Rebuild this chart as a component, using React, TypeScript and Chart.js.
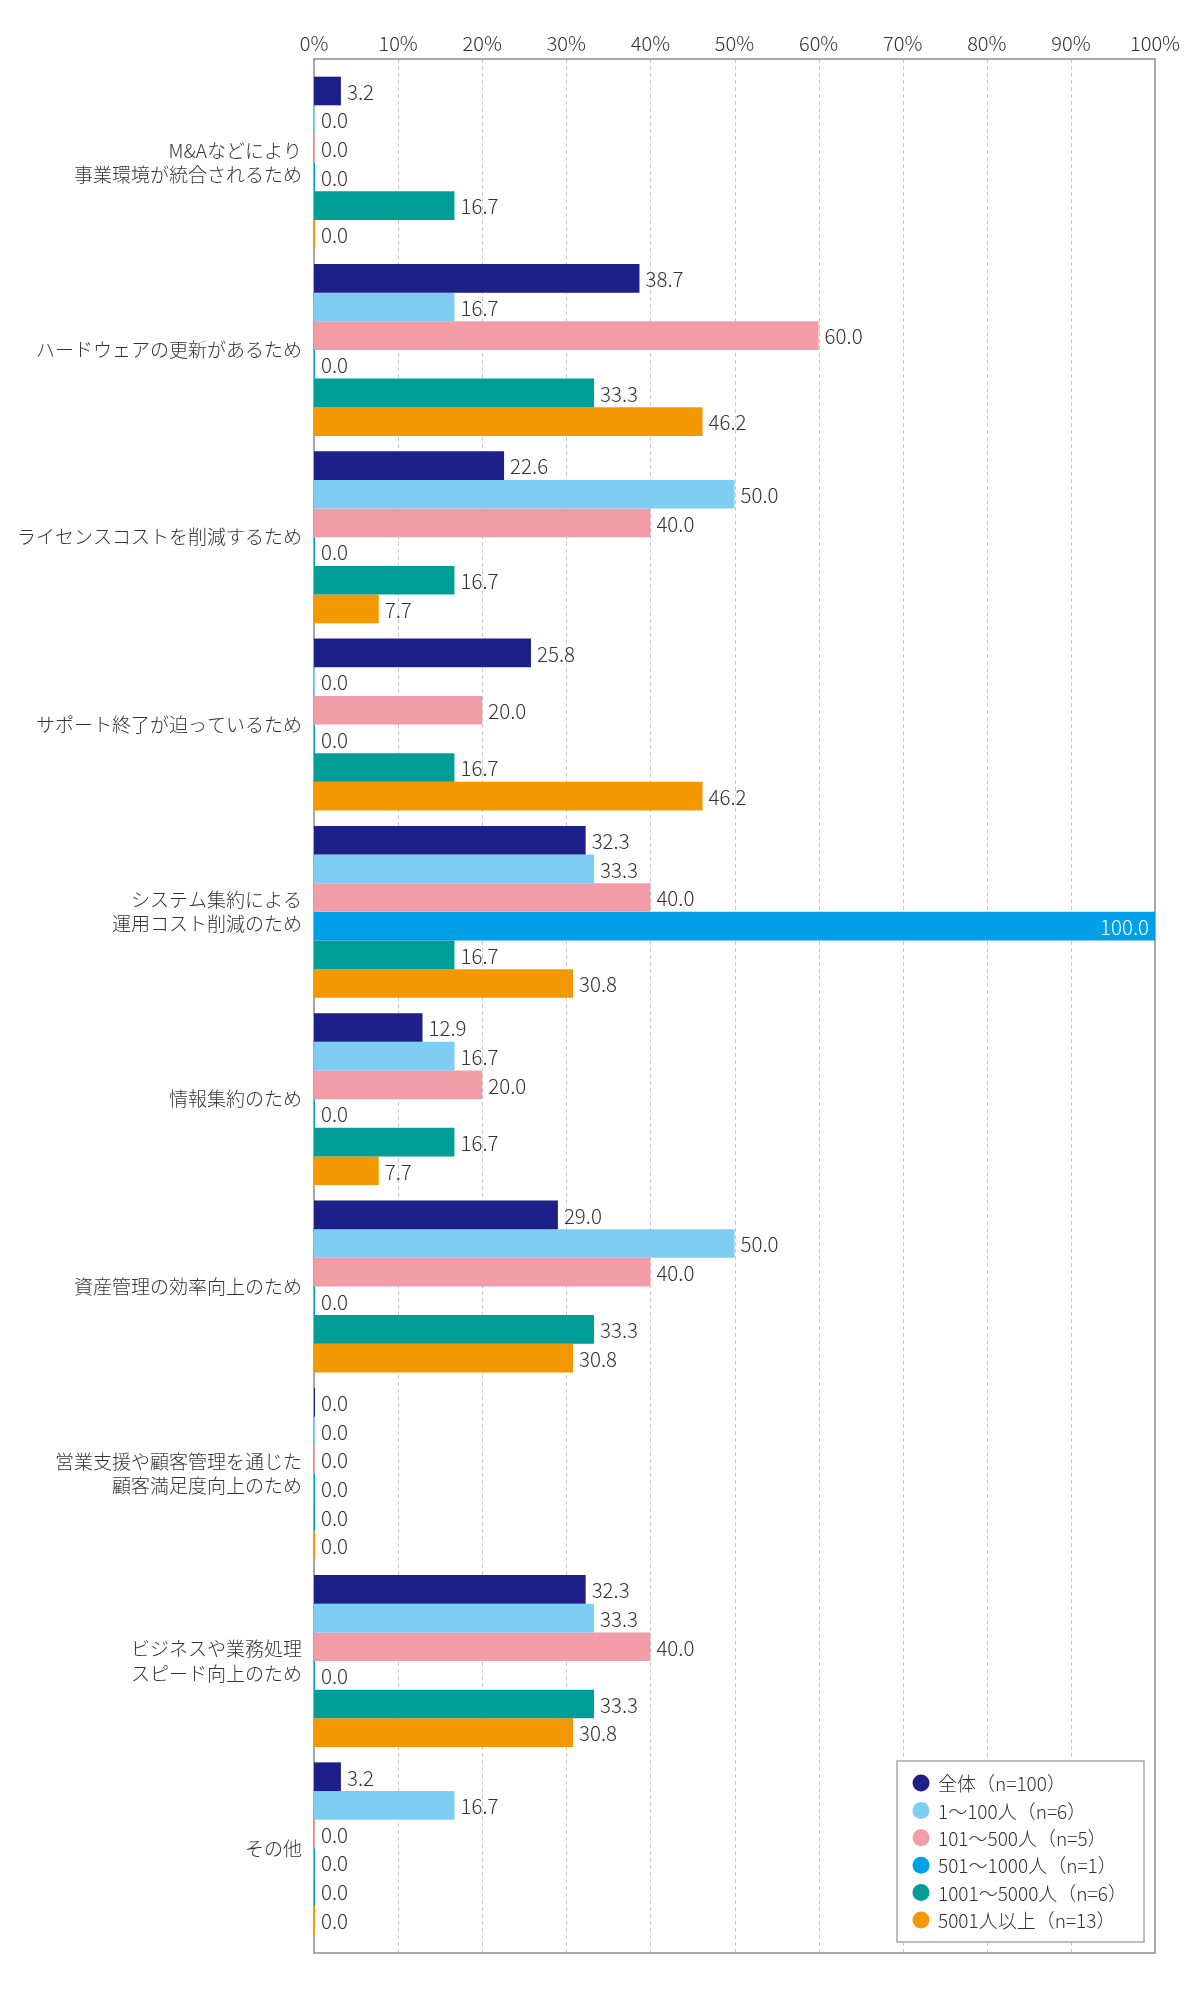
import React, { useEffect, useRef } from "react";
import { Chart, registerables } from "chart.js";

Chart.register(...registerables);

// categories (multi-line labels as arrays)
const categories: (string | string[])[] = [
  ["M&Aなどにより", "事業環境が統合されるため"],
  "ハードウェアの更新があるため",
  "ライセンスコストを削減するため",
  "サポート終了が迫っているため",
  ["システム集約による", "運用コスト削減のため"],
  "情報集約のため",
  "資産管理の効率向上のため",
  ["営業支援や顧客管理を通じた", "顧客満足度向上のため"],
  ["ビジネスや業務処理", "スピード向上のため"],
  "その他",
];

const seriesNames = [
  "全体（n=100）",
  "1〜100人（n=6）",
  "101〜500人（n=5）",
  "501〜1000人（n=1）",
  "1001〜5000人（n=6）",
  "5001人以上（n=13）",
];

const totalAll = [3.2, 38.7, 22.6, 25.8, 32.3, 12.9, 29.0, 0.0, 32.3, 3.2];
const size1to100 = [0.0, 16.7, 50.0, 0.0, 33.3, 16.7, 50.0, 0.0, 33.3, 16.7];
const size101to500 = [0.0, 60.0, 40.0, 20.0, 40.0, 20.0, 40.0, 0.0, 40.0, 0.0];
const size501to1000 = [0.0, 0.0, 0.0, 0.0, 100.0, 0.0, 0.0, 0.0, 0.0, 0.0];
const size1001to5000 = [16.7, 33.3, 16.7, 16.7, 16.7, 16.7, 33.3, 0.0, 33.3, 0.0];
const size5001plus = [0.0, 46.2, 7.7, 46.2, 30.8, 7.7, 30.8, 0.0, 30.8, 0.0];

const seriesValues = [totalAll, size1to100, size101to500, size501to1000, size1001to5000, size5001plus];

const percentTicks = [0, 10, 20, 30, 40, 50, 60, 70, 80, 90, 100];

const seriesColors = ["#1d2088", "#7ecef4", "#f19ca7", "#00a0e9", "#009e96", "#f39800"];

const FONT = "'Noto Sans CJK JP', 'Noto Sans', sans-serif";
const WEIGHT = "300";
const TEXT = "#333333";
// frame sits a little outside the category band
const FRAME_TOP = 10;
const FRAME_BOTTOM = 11;

const frameGrid = {
  id: "frameGrid",
  beforeDatasetsDraw(chart: any) {
    const { ctx, chartArea: a, scales } = chart;
    const top = a.top - FRAME_TOP;
    const bottom = a.bottom + FRAME_BOTTOM;
    ctx.save();
    ctx.strokeStyle = "#c8c8c8";
    ctx.lineWidth = 1;
    ctx.setLineDash([4, 3]);
    scales.x.ticks.forEach((t: any) => {
      if (t.value === 0 || t.value === 100) return;
      const px = Math.round(scales.x.getPixelForValue(t.value)) + 0.5;
      ctx.beginPath();
      ctx.moveTo(px, top);
      ctx.lineTo(px, bottom);
      ctx.stroke();
    });
    ctx.setLineDash([]);
    ctx.strokeStyle = "#8c8c8c";
    ctx.lineWidth = 1.5;
    ctx.strokeRect(a.left, top, a.right - a.left, bottom - top);
    ctx.restore();
  },
};

const valueLabels = {
  id: "valueLabels",
  afterDatasetsDraw(chart: any) {
    const { ctx } = chart;
    ctx.save();
    ctx.font = `${WEIGHT} 20.5px ${FONT}`;
    ctx.textBaseline = "middle";
    chart.data.datasets.forEach((ds: any, i: number) => {
      const meta = chart.getDatasetMeta(i);
      meta.data.forEach((bar: any, j: number) => {
        const v = ds.data[j] as number;
        const { x, y } = bar.getProps(["x", "y"], true);
        const text = v.toFixed(1);
        if (v >= 90) {
          ctx.fillStyle = "#ffffff";
          ctx.textAlign = "right";
          ctx.fillText(text, x - 6, y + 1);
        } else {
          ctx.fillStyle = TEXT;
          ctx.textAlign = "left";
          ctx.fillText(text, x + 6, y + 1);
        }
      });
    });
    ctx.restore();
  },
};

const cornerLegend = {
  id: "cornerLegend",
  afterDraw(chart: any) {
    const { ctx, chartArea: a } = chart;
    const w = 247;
    const h = 181;
    const right = a.right - 11;
    const bottom = a.bottom + FRAME_BOTTOM - 11;
    const left = right - w;
    const top = bottom - h;
    ctx.save();
    ctx.fillStyle = "#ffffff";
    ctx.fillRect(left, top, w, h);
    ctx.strokeStyle = "#a8a8a8";
    ctx.lineWidth = 1.5;
    ctx.strokeRect(left, top, w, h);
    ctx.font = `${WEIGHT} 19px ${FONT}`;
    ctx.textBaseline = "middle";
    ctx.textAlign = "left";
    chart.data.datasets.forEach((ds: any, i: number) => {
      const cy = top + 22 + i * 27.4;
      ctx.fillStyle = ds.backgroundColor;
      ctx.beginPath();
      ctx.arc(left + 24, cy, 8.5, 0, Math.PI * 2);
      ctx.fill();
      ctx.fillStyle = TEXT;
      ctx.fillText(ds.label, left + 41, cy + 1);
    });
    ctx.restore();
  },
};

export default function App() {
  const canvasRef = useRef<HTMLCanvasElement>(null);
  const chartRef = useRef<Chart | null>(null);

  useEffect(() => {
    document.body.style.margin = "0";
    if (!canvasRef.current) return;
    chartRef.current = new Chart(canvasRef.current, {
      type: "bar",
      data: {
        labels: categories,
        datasets: seriesNames.map((name, i) => ({
          label: name,
          data: seriesValues[i],
          backgroundColor: seriesColors[i],
          borderWidth: 0,
          barPercentage: 1,
          categoryPercentage: 0.918,
          minBarLength: 1,
        })),
      },
      options: {
        indexAxis: "y",
        animation: false,
        responsive: true,
        maintainAspectRatio: false,
        layout: { padding: { left: 0, top: 0, right: 45, bottom: 58 } },
        plugins: {
          legend: { display: false },
          tooltip: { enabled: false },
        },
        scales: {
          x: {
            position: "top",
            min: 0,
            max: 100,
            afterBuildTicks: (scale: any) => {
              scale.ticks = percentTicks.map((v) => ({ value: v }));
            },
            afterFit: (scale: any) => {
              scale.height = 69;
            },
            ticks: {
              callback: (v: any) => `${v}%`,
              color: TEXT,
              font: { family: FONT, size: 20, weight: WEIGHT },
              padding: 14,
              maxRotation: 0,
              autoSkip: false,
            },
            grid: { display: false, drawTicks: false },
            border: { display: false },
          },
          y: {
            afterFit: (scale: any) => {
              scale.width = 314;
            },
            ticks: {
              color: TEXT,
              font: { family: FONT, size: 19, lineHeight: 1.3, weight: WEIGHT },
              padding: 12,
              autoSkip: false,
            },
            grid: { display: false, drawTicks: false },
            border: { display: false },
          },
        },
      },
      plugins: [frameGrid, valueLabels, cornerLegend],
    });
    return () => {
      chartRef.current?.destroy();
      chartRef.current = null;
    };
  }, []);

  return (
    <div style={{ position: "relative", width: 1200, height: 2000 }}>
      <canvas ref={canvasRef} />
    </div>
  );
}
